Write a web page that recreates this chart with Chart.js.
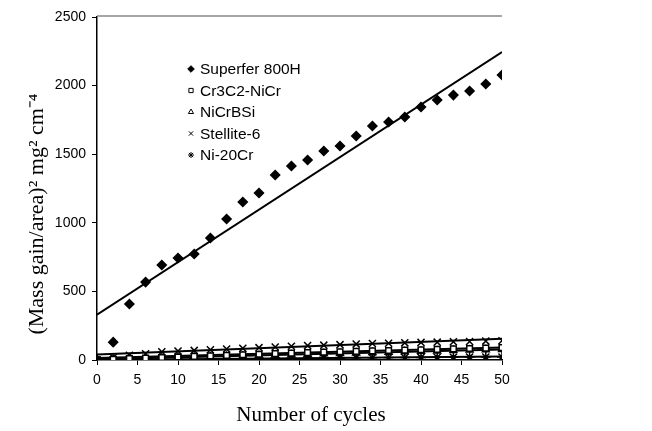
<!DOCTYPE html>
<html>
<head>
<meta charset="utf-8">
<script src="https://cdn.jsdelivr.net/npm/chart.js@4.4.1/dist/chart.umd.min.js"></script>
<style>
  html, body { margin: 0; padding: 0; background: #fff; }
  #wrap { width: 652px; height: 431px; position: relative; }
</style>
</head>
<body>
<div id="wrap"><canvas id="chart" width="652" height="431"></canvas></div>
<script>
// cycles 0..50 in steps of 2
const cycles = [0, 2, 4, 6, 8, 10, 12, 14, 16, 18, 20, 22, 24, 26, 28, 30, 32, 34, 36, 38, 40, 42, 44, 46, 48, 50];

// measured values, (mass gain/area)^2
const superfer = [0, 130, 408, 568, 692, 743, 773, 889, 1028, 1152, 1217, 1348, 1414, 1458, 1523, 1560, 1633, 1706, 1735, 1771, 1844, 1895, 1931, 1961, 2012, 2077];
const cr3c2 = [0, 5, 10, 14, 18, 22, 26, 30, 34, 38, 42, 46, 50, 54, 57, 60, 63, 66, 69, 72, 75, 78, 81, 84, 87, 90];
const nicrbsi = [0, 4, 8, 12, 15, 18, 21, 24, 27, 30, 33, 36, 39, 42, 45, 48, 51, 54, 57, 60, 63, 66, 69, 72, 74, 76];
const stellite = [0, 20, 35, 45, 60, 65, 70, 75, 80, 85, 90, 95, 100, 105, 108, 112, 116, 120, 122, 125, 128, 130, 133, 135, 138, 140];
const ni20cr = [0, 2, 3, 4, 5, 6, 7, 8, 9, 10, 11, 12, 13, 14, 15, 15, 16, 17, 18, 18, 19, 20, 20, 21, 22, 22];

// linear trend lines (endpoints at 0 and 50 cycles)
const trendX = [0, 50];
const superferFit = [330, 2245];
const cr3c2Fit = [15, 92];
const nicrbsiFit = [5, 76];
const stelliteFit = [40, 155];
const ni20crFit = [0, 25];

const xTicks = [0, 5, 10, 15, 20, 25, 30, 35, 40, 45, 50];
const yTicks = [0, 500, 1000, 1500, 2000, 2500];

const pts = (xs, ys) => xs.map((x, i) => ({ x: x, y: ys[i] }));

function marks(label, ys, style, fill, r) {
  return {
    label: label,
    data: pts(cycles, ys),
    showLine: false,
    pointStyle: style,
    pointRadius: r,
    pointBackgroundColor: fill,
    pointBorderColor: '#000',
    pointBorderWidth: 1.5,
    order: 1
  };
}

function fit(ys) {
  return {
    label: '',
    data: pts(trendX, ys),
    showLine: true,
    borderColor: '#000',
    borderWidth: 2,
    pointRadius: 0,
    fill: false,
    order: 2,
    fitLine: true
  };
}

const datasets = [
  marks('Superfer 800H', superfer, 'rectRot', '#000', 4.5),
  marks('Cr3C2-NiCr', cr3c2, 'rect', '#fff', 4),
  marks('NiCrBSi', nicrbsi, 'triangle', '#fff', 4),
  marks('Stellite-6', stellite, 'crossRot', '#000', 5),
  marks('Ni-20Cr', ni20cr, 'star', '#000', 5),
  fit(superferFit), fit(cr3c2Fit), fit(nicrbsiFit), fit(stelliteFit), fit(ni20crFit)
];

// legend inside the plot, axis titles and the grey top frame line
const extras = {
  id: 'extras',
  afterDraw(chart) {
    const ctx = chart.ctx;
    const area = chart.chartArea;
    ctx.save();
    ctx.strokeStyle = '#888';
    ctx.lineWidth = 1.5;
    ctx.beginPath();
    ctx.moveTo(area.left, area.top - 1);
    ctx.lineTo(area.right, area.top - 1);
    ctx.stroke();

    ctx.font = '15.5px "Liberation Sans", Arial, sans-serif';
    ctx.textBaseline = 'middle';
    const items = chart.data.datasets.filter(d => !d.fitLine);
    items.forEach((d, i) => {
      const y = 69 + i * 21.5;
      const x = 191;
      ctx.fillStyle = d.pointBackgroundColor;
      ctx.strokeStyle = '#000';
      ctx.lineWidth = 1;
      Chart.helpers.drawPoint(ctx, {
        pointStyle: d.pointStyle,
        radius: d.pointStyle === 'rectRot' ? 3.3 : 3,
        borderWidth: 1
      }, x, y);
      ctx.fillStyle = '#000';
      ctx.textAlign = 'left';
      ctx.fillText(d.label, x + 9, y + 1);
    });

    // x-axis title
    ctx.textAlign = 'center';
    ctx.fillStyle = '#000';
    ctx.font = '21px "Liberation Serif", "Times New Roman", serif';
    ctx.fillText('Number of cycles', 311, 415);

    // y-axis title, rotated
    ctx.translate(37, 214);
    ctx.rotate(-Math.PI / 2);
    ctx.font = '22px "Liberation Serif", "Times New Roman", serif';
    ctx.fillText('(Mass gain/area)\u00b2 mg\u00b2 cm\u207b\u2074', 0, 0);
    ctx.restore();
  }
};

new Chart(document.getElementById('chart'), {
  type: 'scatter',
  data: { datasets: datasets },
  plugins: [extras],
  options: {
    responsive: false,
    animation: false,
    layout: { padding: { top: 17, right: 150, left: 0, bottom: 0 } },
    plugins: {
      legend: { display: false },
      tooltip: { enabled: false }
    },
    scales: {
      x: {
        type: 'linear',
        min: 0,
        max: 50,
        afterFit: s => { s.height = 71; },
        afterBuildTicks: s => { s.ticks = xTicks.map(v => ({ value: v })); },
        grid: { drawOnChartArea: false, drawTicks: true, tickLength: 5, color: '#000', tickWidth: 1 },
        border: { color: '#000', width: 1.5 },
        ticks: {
          color: '#000',
          padding: 7,
          callback: v => String(v),
          font: { family: '"Liberation Sans", Arial, sans-serif', size: 14 }
        }
      },
      y: {
        type: 'linear',
        min: 0,
        max: 2500,
        afterFit: s => { s.width = 97; },
        afterBuildTicks: s => { s.ticks = yTicks.map(v => ({ value: v })); },
        grid: { drawOnChartArea: false, drawTicks: true, tickLength: 5, color: '#000', tickWidth: 1 },
        border: { color: '#000', width: 1.5 },
        ticks: {
          color: '#000',
          padding: 6,
          callback: v => String(v),
          font: { family: '"Liberation Sans", Arial, sans-serif', size: 14 }
        }
      }
    }
  }
});
</script>
</body>
</html>
